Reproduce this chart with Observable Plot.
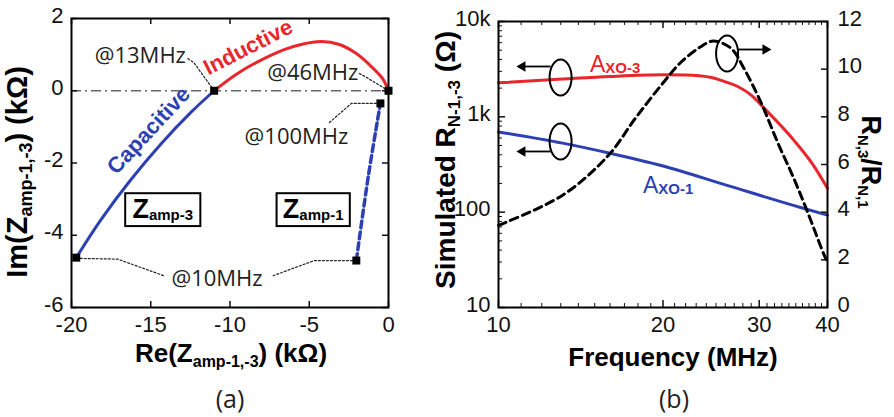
<!DOCTYPE html>
<html><head><meta charset="utf-8">
<script src="https://cdn.jsdelivr.net/npm/d3@7"></script>
<script src="https://cdn.jsdelivr.net/npm/@observablehq/plot@0.6"></script>
<style>
body{margin:0;background:#fff;}
#wrap{position:relative;width:894px;height:417px;overflow:hidden;background:#fff;}
#wrap svg{position:absolute;left:0;top:0;}
</style></head><body><div id="wrap"></div>
<script>
// ---------- Panel (a) data ----------
const capRe = [-19.7, -18.16, -16.27, -14.37, -12.47, -11.0];
const capIm = [-4.62, -3.58, -2.47, -1.48, -0.60, 0];
const indRe = [-11.0, -9.62, -8.35, -6.58, -5.51, -4.24, -3.1, -2.03, -1.08, -0.38, 0];
const indIm = [0, 0.45, 0.78, 1.14, 1.28, 1.36, 1.28, 1.03, 0.67, 0.34, 0];
const amp1Re = [-2.03, -1.25, -0.51];
const amp1Im = [-4.70, -2.30, -0.35];
const markerRe = [-19.7, -11.0, 0, -0.51, -2.03];
const markerIm = [-4.62, 0, 0, -0.35, -4.70];
const freqLabels = ["@13MHz", "@46MHz", "@100MHz", "@10MHz"];
const freqLabelRe = [-12.78, -1.9, -2.53, -10.82];
const freqLabelIm = [0.975, 0.48, -1.27, -5.2];
const freqLabelAnchor = ["end", "end", "end", "middle"];
const leaderId = [0,0,0, 1,1,1, 2,2,2, 3,3,3, 4,4,4];
const leaderRe = [-12.66,-12.28,-11.0, -1.84,-1.39,0, -3.73,-2.34,-0.51, -19.7,-17.09,-14.18, -7.28,-4.68,-2.03];
const leaderIm = [0.89,0.78,0, 0.48,0.37,0, -0.88,-0.35,-0.35, -4.64,-4.66,-5.12, -5.12,-4.70,-4.70];
const regionLabels = ["Capacitive", "Inductive"];
const regionRe = [-15.13, -8.86];
const regionIm = [-1.10, 1.20];
const regionRot = [-47, -27];
const boxNames = ["amp-3", "amp-1"];
const boxRe1 = [-16.58, -7.03], boxRe2 = [-11.84, -2.41];
const boxIm1 = [-3.76, -3.76], boxIm2 = [-2.85, -2.85];
const xTicksA = [-20, -15, -10, -5, 0];
const yTicksA = [-6, -4, -2, 0, 2];

// ---------- Panel (b) data ----------
const fRed = [10, 13.1, 16, 20, 22, 24.4, 26, 27.4, 29, 30.5, 34.7, 37.7, 40];
const vRed = [2275, 2490, 2650, 2760, 2740, 2600, 2330, 2080, 1690, 1264, 570, 310, 178];
const fBlue = [10, 13.1, 16, 20, 26.2, 35.7, 40];
const vBlue = [695, 530, 415, 305, 191, 112, 93];
const fRatio = [10, 13.1, 15.9, 17.8, 20, 21.5, 23.4, 24.7, 26.6, 28.1, 30.2, 32.4, 34.7, 36.8, 39.7, 40];
const vRatio = [3.45, 4.71, 6.39, 7.94, 9.42, 10.26, 10.93, 11.18, 10.89, 10.05, 8.62, 6.94, 5.42, 3.99, 2.06, 1.95];
const xTicksB = [10, 20, 30, 40];
const xTickLabelsB = ["10", "20", "30", "40"];
const xMinorB = [11,12,13,14,15,16,17,18,19,21,22,23,24,25,26,27,28,29,31,32,33,34,35,36,37,38,39];
const yTicksB = [10, 100, 1000, 10000];
const yTickLabelsB = ["10", "100", "1k", "10k"];
const yMinorB = [20,30,40,50,60,70,80,90,200,300,400,500,600,700,800,900,2000,3000,4000,5000,6000,7000,8000,9000];
const yTicksR = [0, 2, 4, 6, 8, 10, 12];
// ellipse + arrow annotations (left axis units)
const ellF = [12.99, 12.99, 26.2];
const ellV = [2585, 551, 4618];
const arrF1 = [12.45, 12.45, 27.35], arrF2 = [11.06, 11.06, 30.8];
const arrV = [3373, 433, 5085];
const arrRot = [-90, -90, 90];
const axoLabels = ["XO-3", "XO-1"];
const axoF = [14.73, 18.42];
const axoV = [2917, 157];

// ---------- style ----------
const W = 894, H = 417;
const RED = "#e8262b", BLUE = "#2c3fb3";
const NARROW = '"Liberation Sans Narrow","Arial Narrow","Liberation Sans",Arial,sans-serif';
const SANS = '"Liberation Sans",Arial,sans-serif';
const HUM = '"Open Sans","Noto Sans",sans-serif';
const wrap = document.getElementById("wrap");

const A = {l: 71, r: 388, t: 18, b: 307};
const B = {l: 498, r: 827, t: 21, b: 307};
const baseStyle = {background: "transparent", fontFamily: NARROW, fontSize: "22px", color: "#111", overflow: "visible"};

const tbl = (keys, arrs) => arrs[0].map((_, i) => Object.fromEntries(keys.map((k, j) => [k, arrs[j][i]])));

const capData = tbl(["x","y"], [capRe, capIm]);
const indData = tbl(["x","y"], [indRe, indIm]);
const amp1Data = tbl(["x","y"], [amp1Re, amp1Im]);
const markers = tbl(["x","y"], [markerRe, markerIm]);
const freqData = tbl(["t","x","y","a"], [freqLabels, freqLabelRe, freqLabelIm, freqLabelAnchor]);
const leaders = tbl(["id","x","y"], [leaderId, leaderRe, leaderIm]);
const regions = tbl(["t","x","y","r"], [regionLabels, regionRe, regionIm, regionRot]);
const boxes = tbl(["n","x1","x2","y1","y2"], [boxNames, boxRe1, boxRe2, boxIm1, boxIm2]);

const fhA = A.b - A.t, fwA = A.r - A.l;
const plotA = Plot.plot({
  width: W, height: H,
  marginLeft: A.l, marginRight: W - A.r, marginTop: A.t, marginBottom: H - A.b,
  x: {domain: [-20, 0]}, y: {domain: [-6, 2]},
  style: baseStyle,
  marks: [
    Plot.ruleY([0], {stroke: "#666", strokeWidth: 1.5, strokeDasharray: "10,4,2,4"}),
    Plot.axisX({ticks: xTicksA, tickSize: 0, tickPadding: 9, label: null, tickFormat: d => String(d)}),
    Plot.axisY({ticks: yTicksA, tickSize: 0, tickPadding: 8, dy: -3, label: null, tickFormat: d => String(d)}),
    Plot.tickX(xTicksA, {x: d => d, insetTop: fhA - 6, strokeWidth: 1.5}),
    Plot.tickX(xTicksA, {x: d => d, insetBottom: fhA - 6, strokeWidth: 1.5}),
    Plot.tickY(yTicksA, {y: d => d, insetRight: fwA - 6, strokeWidth: 1.5}),
    Plot.tickY(yTicksA, {y: d => d, insetLeft: fwA - 6, strokeWidth: 1.5}),
    Plot.line(leaders, {x: "x", y: "y", z: "id", stroke: "#222", strokeWidth: 1.2, strokeDasharray: "2,2"}),
    Plot.line(capData, {x: "x", y: "y", stroke: BLUE, strokeWidth: 3, curve: "catmull-rom"}),
    Plot.line(indData, {x: "x", y: "y", stroke: RED, strokeWidth: 3, curve: "catmull-rom"}),
    Plot.line(amp1Data, {x: "x", y: "y", stroke: BLUE, strokeWidth: 3.5, strokeDasharray: "7,4", curve: "catmull-rom"}),
    Plot.dot(markers, {x: "x", y: "y", symbol: "square", r: 4.5, fill: "#000", stroke: "none"}),
    Plot.rect(boxes, {x1: "x1", x2: "x2", y1: "y1", y2: "y2", fill: "white", stroke: "#000", strokeWidth: 2}),
    Plot.text(freqData.filter(d => d.a === "end"), {x: "x", y: "y", text: "t", textAnchor: "end", fontFamily: HUM, fontSize: 22, fill: "#222"}),
    Plot.text(freqData.filter(d => d.a === "middle"), {x: "x", y: "y", text: "t", textAnchor: "middle", fontFamily: HUM, fontSize: 22, fill: "#222"}),
    Plot.text(regions.slice(0,1), {x: "x", y: "y", text: "t", rotate: regionRot[0], fontFamily: SANS, fontWeight: "bold", fontSize: 22, fill: BLUE}),
    Plot.text(regions.slice(1), {x: "x", y: "y", text: "t", rotate: regionRot[1], fontFamily: SANS, fontWeight: "bold", fontSize: 22, fill: RED}),
    Plot.frame({stroke: "#000", strokeWidth: 2})
  ]
});
wrap.appendChild(plotA);

// ---------- Panel (b) ----------
const redData = tbl(["f","v"], [fRed, vRed]);
const blueData = tbl(["f","v"], [fBlue, vBlue]);
const ratioData = tbl(["f","v"], [fRatio, vRatio]);
const ells = tbl(["f","v"], [ellF, ellV]);
const arrows = tbl(["f1","f2","v","r"], [arrF1, arrF2, arrV, arrRot]);

const k = 0.5523;
const ellipseSymbol = {draw(ctx) {
  const rx = 11, ry = 18;
  ctx.moveTo(rx, 0);
  ctx.bezierCurveTo(rx, ry * k, rx * k, ry, 0, ry);
  ctx.bezierCurveTo(-rx * k, ry, -rx, ry * k, -rx, 0);
  ctx.bezierCurveTo(-rx, -ry * k, -rx * k, -ry, 0, -ry);
  ctx.bezierCurveTo(rx * k, -ry, rx, -ry * k, rx, 0);
  ctx.closePath();
}};

const fhB = B.b - B.t, fwB = B.r - B.l;
const plotB = Plot.plot({
  width: W, height: H,
  marginLeft: B.l, marginRight: W - B.r, marginTop: B.t, marginBottom: H - B.b,
  x: {type: "log", domain: [10, 40]}, y: {type: "log", domain: [10, 10000]},
  style: baseStyle,
  marks: [
    Plot.axisX({ticks: xTicksB, tickSize: 0, tickPadding: 9, label: null, tickFormat: d => xTickLabelsB[xTicksB.indexOf(d)]}),
    Plot.axisY({ticks: yTicksB, tickSize: 0, tickPadding: 8, dy: -3, label: null, tickFormat: d => yTickLabelsB[yTicksB.indexOf(d)]}),
    Plot.tickX(xTicksB, {x: d => d, insetTop: fhB - 7, strokeWidth: 1.5}),
    Plot.tickX(xTicksB, {x: d => d, insetBottom: fhB - 7, strokeWidth: 1.5}),
    Plot.tickX(xMinorB, {x: d => d, insetTop: fhB - 4, strokeWidth: 1}),
    Plot.tickX(xMinorB, {x: d => d, insetBottom: fhB - 4, strokeWidth: 1}),
    Plot.tickY(yTicksB, {y: d => d, insetRight: fwB - 7, strokeWidth: 1.5}),
    Plot.tickY(yMinorB, {y: d => d, insetRight: fwB - 4, strokeWidth: 1}),
    Plot.line(redData, {x: "f", y: "v", stroke: RED, strokeWidth: 3, curve: "monotone-x"}),
    Plot.line(blueData, {x: "f", y: "v", stroke: BLUE, strokeWidth: 3, curve: "monotone-x"}),
    Plot.dot(ells, {x: "f", y: "v", symbol: ellipseSymbol, stroke: "#000", strokeWidth: 2, fill: "none"}),
    Plot.link(arrows, {x1: "f1", x2: "f2", y1: "v", y2: "v", stroke: "#000", strokeWidth: 1.8}),
    Plot.dot(arrows, {x: "f2", y: "v", symbol: "triangle2", rotate: "r", r: 5, fill: "#000", stroke: "none"}),
    Plot.frame({stroke: "#000", strokeWidth: 2})
  ]
});
wrap.appendChild(plotB);

const plotC = Plot.plot({
  width: W, height: H,
  marginLeft: B.l, marginRight: W - B.r, marginTop: B.t, marginBottom: H - B.b,
  x: {type: "log", domain: [10, 40], axis: null}, y: {domain: [0, 12], axis: null},
  style: baseStyle,
  marks: [
    Plot.axisY({anchor: "right", ticks: yTicksR, tickSize: 0, tickPadding: 10, dy: -3, label: null, tickFormat: d => String(d)}),
    Plot.tickY(yTicksR, {y: d => d, insetLeft: fwB - 6, strokeWidth: 1.5}),
    Plot.line(ratioData, {x: "f", y: "v", stroke: "#000", strokeWidth: 3, strokeDasharray: "8,5", curve: "catmull-rom"})
  ]
});
wrap.appendChild(plotC);

// ---------- rich text (subscripts) ----------
function rich(svg, x, y, rot, anchor, fill, parts) {
  const t = d3.select(svg).append("text")
    .attr("transform", `translate(${x},${y}) rotate(${rot})`)
    .attr("text-anchor", anchor).attr("fill", fill);
  let cur = 0;
  for (const p of parts) {
    t.append("tspan").attr("font-family", p.family || SANS).attr("font-weight", p.weight || "bold")
      .attr("font-size", p.size).attr("dy", (p.shift || 0) - cur).text(p.text);
    cur = p.shift || 0;
  }
}
// axis titles
rich(plotA, 231, 362, 0, "middle", "#000", [
  {text: "Re(Z", size: 26}, {text: "amp-1,-3", size: 16, shift: 5}, {text: ") (kΩ)", size: 26}]);
rich(plotA, 27, 172, -90, "middle", "#000", [
  {text: "Im(Z", size: 29}, {text: "amp-1,-3", size: 18, shift: 5}, {text: ") (kΩ)", size: 29}]);
rich(plotB, 673, 366, 0, "middle", "#000", [{text: "Frequency (MHz)", size: 26}]);
rich(plotB, 455, 160, -90, "middle", "#000", [
  {text: "Simulated R", size: 28}, {text: "N-1,-3", size: 17, shift: 5}, {text: " (Ω)", size: 28}]);
rich(plotC, 862, 162, 90, "middle", "#000", [
  {text: "R", size: 27}, {text: "N,3", size: 15, shift: 4}, {text: "/R", size: 27}, {text: "N,1", size: 15, shift: 4}]);
// panel tags
rich(plotA, 230, 408, 0, "middle", "#222", [{text: "(a)", size: 25, weight: "normal", family: HUM}]);
rich(plotB, 674, 408, 0, "middle", "#222", [{text: "(b)", size: 25, weight: "normal", family: HUM}]);
// box labels
{
  const sx = plotA.scale("x"), sy = plotA.scale("y");
  boxes.forEach(b => {
    const cx = (sx.apply(b.x1) + sx.apply(b.x2)) / 2;
    const cy = (sy.apply(b.y1) + sy.apply(b.y2)) / 2;
    rich(plotA, cx, cy + 8, 0, "middle", "#000", [{text: "Z", size: 27, family: NARROW}, {text: b.n, size: 15, shift: 2}]);
  });
}
// A_XO labels
{
  const sx = plotB.scale("x"), sy = plotB.scale("y");
  const cols = [RED, BLUE];
  axoLabels.forEach((s, i) => {
    rich(plotB, sx.apply(axoF[i]), sy.apply(axoV[i]), 0, "start", cols[i], [
      {text: "A", size: 23, weight: "normal"}, {text: s, size: 15, shift: 1}]);
  });
}
</script></body></html>
